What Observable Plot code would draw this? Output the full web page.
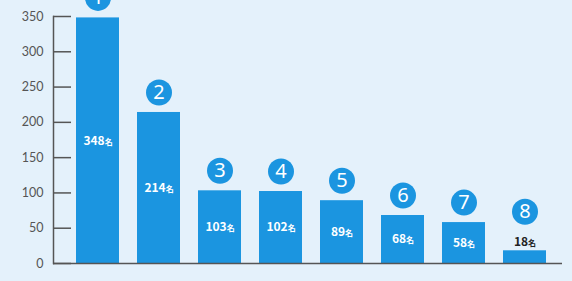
<!DOCTYPE html>
<html><head><meta charset="utf-8">
<script src="https://cdn.jsdelivr.net/npm/d3@7"></script>
<script src="https://cdn.jsdelivr.net/npm/@observablehq/plot@0.6"></script>
<style>
html,body{margin:0;padding:0;background:#e4f1fb;}
#chart svg{display:block;background:#e4f1fb;}
</style></head>
<body><div id="chart"></div>
<script>
const ranks = ["1","2","3","4","5","6","7","8"];
const counts = [348, 214, 103, 102, 89, 68, 58, 18];
const unit = "名";
const yTicks = [0, 50, 100, 150, 200, 250, 300, 350];

const data = ranks.map((r, i) => ({rank: r, count: counts[i]}));
const inside = data.filter(d => d.count > 30);
const outside = data.filter(d => d.count <= 30);
const blue = "#1b95e0";

function unitRender(index, scales, values, dims, ctx, next) {
  const g = next(index, scales, values, dims, ctx);
  d3.select(g).selectAll("text").each(function() {
    const t = d3.select(this);
    const s = t.text();
    if (s.endsWith(unit)) {
      t.text(s.slice(0, -unit.length));
      t.append("tspan").attr("font-size", 8).text(unit);
    }
  });
  return g;
}

const chart = Plot.plot({
  width: 572, height: 281,
  marginLeft: 53, marginRight: 10, marginTop: 16, marginBottom: 18,
  style: {background: "#e4f1fb", overflow: "visible"},
  x: {domain: ranks, padding: 0.3, insetLeft: 3, insetRight: -3, axis: null},
  y: {domain: [0, 350], ticks: yTicks},
  marks: [
    Plot.barY(data, {x: "rank", y: "count", fill: blue}),
    Plot.axisY({ticks: yTicks, tickSize: 0, tickPadding: 10, fontSize: 12.5, fill: "#555", fontFamily: "Lato", label: null}),
    Plot.axisY({ticks: yTicks, tickSize: -18, stroke: "#555", strokeWidth: 1.5, text: null, label: null}),
    Plot.frame({anchor: "left", stroke: "#555", strokeWidth: 1.5}),
    Plot.ruleY([0], {stroke: "#555", strokeWidth: 1.5}),
    Plot.text(inside, {x: "rank", y: d => d.count / 2, text: d => d.count + unit, fill: "white", fontWeight: "bold", fontSize: 12, fontFamily: "Noto Sans CJK JP", render: unitRender}),
    Plot.text(outside, {x: "rank", y: "count", dy: -9, text: d => d.count + unit, fill: "#222", fontWeight: "bold", fontSize: 12, fontFamily: "Noto Sans CJK JP", render: unitRender}),
    Plot.dot(inside, {x: "rank", y: "count", dy: -20, r: 13, fill: blue}),
    Plot.dot(outside, {x: "rank", y: "count", dy: -39, r: 13, fill: blue}),
    Plot.text(inside, {x: "rank", y: "count", dy: -20, text: "rank", fill: "white", fontSize: 20, fontFamily: "Noto Sans"}),
    Plot.text(outside, {x: "rank", y: "count", dy: -39, text: "rank", fill: "white", fontSize: 20, fontFamily: "Noto Sans"})
  ]
});
document.getElementById("chart").append(chart);
</script>
</body></html>
